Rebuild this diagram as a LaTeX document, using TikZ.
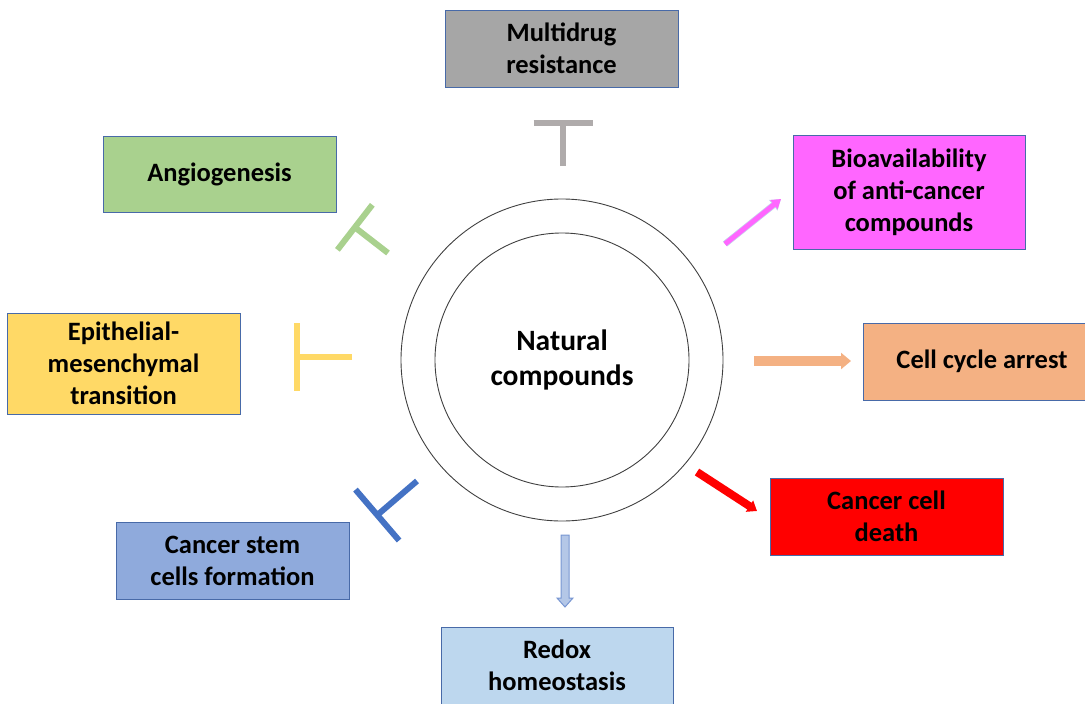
\documentclass[tikz,border=0pt]{standalone}
\usepackage{fontspec}
\setmainfont{Carlito}
\usetikzlibrary{arrows.meta,calc}
\definecolor{bordc}{RGB}{72,106,168}
\definecolor{cgray}{RGB}{166,166,166}
\definecolor{tgray}{RGB}{175,171,171}
\definecolor{cpink}{RGB}{255,102,255}
\definecolor{corange}{RGB}{244,177,131}
\definecolor{cred}{RGB}{255,0,0}
\definecolor{cltblue}{RGB}{189,215,238}
\definecolor{cblue}{RGB}{143,170,220}
\definecolor{tblue}{RGB}{68,114,196}
\definecolor{cyellow}{RGB}{255,217,102}
\definecolor{cgreen}{RGB}{169,209,142}
\definecolor{arrfill}{RGB}{180,199,231}
\definecolor{arredge}{RGB}{120,150,210}
\definecolor{circc}{RGB}{64,64,64}
\begin{document}
\begin{tikzpicture}[x=1pt,y=-1pt,
  box/.style={draw=bordc,line width=0.9pt,inner sep=0pt,align=center,
    font=\fontsize{26.5}{32}\selectfont\bfseries,text=black},
  ring/.style={circle,draw=circc,line width=0.9pt,inner sep=0pt},
  tbar/.style={line width=6pt,-{Bar[width=#1,line width=6pt]}}]
\useasboundingbox (0,0) rectangle (1085,704);
\clip (0,0) rectangle (1085,704);
% circles
\node[ring,minimum size=322pt] (outer) at (562,360) {};
\node[ring,minimum size=254pt,align=center,font=\fontsize{29.5}{35}\selectfont\bfseries] (inner) at (562,360) {Natural\\compounds};
% boxes
\node[box,fill=cgray,minimum width=233pt,minimum height=77pt] (mdr) at (561.5,48.5) {Multidrug\\resistance};
\node[box,fill=cpink,minimum width=232pt,minimum height=114pt] (bio) at (909,192) {Bioavailability\\of anti-cancer\\compounds};
\node[box,fill=corange,minimum width=238pt,minimum height=77pt] (cca) at (982,361.5) {Cell cycle arrest};
\node[box,fill=cred,minimum width=233pt,minimum height=77pt] (ccd) at (886.5,516.5) {Cancer cell\\death};
\node[box,fill=cltblue,minimum width=232pt,minimum height=77pt] (redox) at (557,665.5) {Redox\\homeostasis};
\node[box,fill=cblue,minimum width=233pt,minimum height=77pt] (csc) at (232.5,560.5) {Cancer stem\\cells formation};
\node[box,fill=cyellow,minimum width=233pt,minimum height=101pt] (emt) at (123.5,363.5) {Epithelial-\\mesenchymal\\transition};
\node[box,fill=cgreen,minimum width=233pt,minimum height=76pt] (ang) at (219.5,174) {Angiogenesis};
% connector coordinates
\coordinate (mdrS) at (563,166); \coordinate (mdrE) at (563,120);
\coordinate (angS) at (388,253); \coordinate (angE) at (352.5,225.5);
\coordinate (emtS) at (352,357); \coordinate (emtE) at (294,357);
\coordinate (cscS) at (417,481); \coordinate (cscE) at (375,517);
\coordinate (bioS) at (725,244); \coordinate (bioE) at (781,199);
\coordinate (ccaS) at (754,361); \coordinate (ccaE) at (851,361);
\coordinate (ccdS) at (697,472); \coordinate (ccdE) at (757,511);
\coordinate (redS) at (565,535); \coordinate (redE) at (565,607);
% inhibition connectors
\draw[tbar=59pt,draw=tgray] (mdrS) -- (mdrE);
\draw[tbar=57pt,draw=cgreen] (angS) -- (angE);
\draw[tbar=68pt,draw=cyellow] (emtS) -- (emtE);
\draw[tbar=67pt,draw=tblue] (cscS) -- (cscE);
% activating connectors
\draw[line width=6.5pt,draw=arredge!40,-{Triangle[length=10pt,width=13pt]}] (bioS) -- (bioE);
\draw[line width=5pt,draw=cpink,-{Triangle[length=9pt,width=11pt]}] (bioS) -- (bioE);
\draw[line width=10pt,draw=corange,-{Triangle[length=10pt,width=16pt]}] (ccaS) -- (ccaE);
\draw[line width=8pt,draw=cred,-{Triangle[length=9pt,width=13pt]}] (ccdS) -- (ccdE);
\draw[draw=arredge,fill=arrfill,line width=1pt]
  ($(redS)+(-4,0)$) -- ($(redE)+(-4,-9)$) -- ($(redE)+(-8,-9)$) -- (redE)
  -- ($(redE)+(8,-9)$) -- ($(redE)+(4,-9)$) -- ($(redS)+(4,0)$) -- cycle;
\end{tikzpicture}
\end{document}
